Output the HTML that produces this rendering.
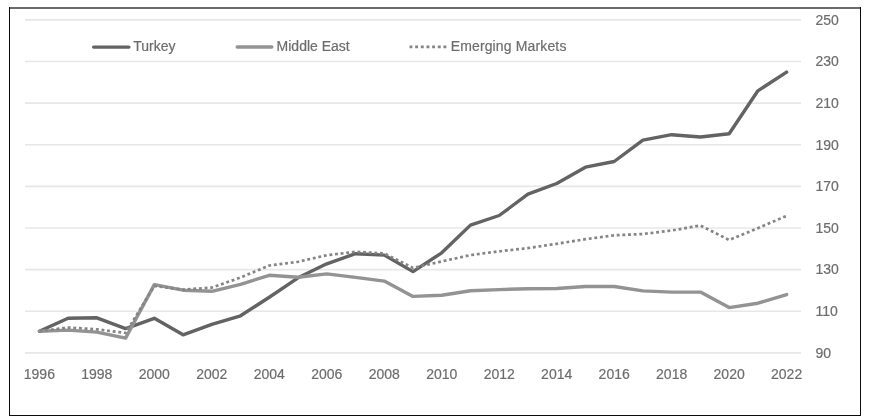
<!DOCTYPE html>
<html><head><meta charset="utf-8">
<style>
html,body{margin:0;padding:0;background:#fff;}
body{width:869px;height:417px;overflow:hidden;position:relative;}
svg{position:absolute;left:0;top:0;will-change:transform;}
text{font-family:"Liberation Sans",sans-serif;font-size:14px;fill:#6d6d6d;stroke:#6d6d6d;stroke-width:0.2px;}
</style></head><body>
<svg width="869" height="417" viewBox="0 0 869 417">
<rect x="0" y="0" width="869" height="417" fill="#fff"/>
<g>
<g stroke="#e7e7e7" stroke-width="1.6" fill="none">
<line x1="25" x2="801" y1="352.90" y2="352.90" />
<line x1="25" x2="801" y1="311.27" y2="311.27" />
<line x1="25" x2="801" y1="269.65" y2="269.65" />
<line x1="25" x2="801" y1="228.02" y2="228.02" />
<line x1="25" x2="801" y1="186.40" y2="186.40" />
<line x1="25" x2="801" y1="144.77" y2="144.77" />
<line x1="25" x2="801" y1="103.15" y2="103.15" />
<line x1="25" x2="801" y1="61.52" y2="61.52" />
<line x1="25" x2="801" y1="19.90" y2="19.90" />
</g>
<g>
<text x="815.5" y="357.80">90</text>
<text x="815.5" y="316.14">110</text>
<text x="815.5" y="274.48">130</text>
<text x="815.5" y="232.82">150</text>
<text x="815.5" y="191.16">170</text>
<text x="815.5" y="149.50">190</text>
<text x="815.5" y="107.84">210</text>
<text x="815.5" y="66.18">230</text>
<text x="815.5" y="24.52">250</text>
<text x="39.37" y="379.1" text-anchor="middle">1996</text>
<text x="96.85" y="379.1" text-anchor="middle">1998</text>
<text x="154.33" y="379.1" text-anchor="middle">2000</text>
<text x="211.81" y="379.1" text-anchor="middle">2002</text>
<text x="269.30" y="379.1" text-anchor="middle">2004</text>
<text x="326.78" y="379.1" text-anchor="middle">2006</text>
<text x="384.26" y="379.1" text-anchor="middle">2008</text>
<text x="441.74" y="379.1" text-anchor="middle">2010</text>
<text x="499.22" y="379.1" text-anchor="middle">2012</text>
<text x="556.70" y="379.1" text-anchor="middle">2014</text>
<text x="614.19" y="379.1" text-anchor="middle">2016</text>
<text x="671.67" y="379.1" text-anchor="middle">2018</text>
<text x="729.15" y="379.1" text-anchor="middle">2020</text>
<text x="786.63" y="379.1" text-anchor="middle">2022</text>
</g>
<g fill="none" stroke-linejoin="round" stroke-linecap="round">
<polyline points="39.37,331.30 68.11,318.30 96.85,317.80 125.59,328.60 154.33,318.30 183.07,334.80 211.81,324.30 240.56,315.80 269.30,297.20 298.04,277.80 326.78,263.80 355.52,253.70 384.26,255.10 413.00,271.60 441.74,252.80 470.48,225.10 499.22,215.50 527.96,194.20 556.70,183.50 585.44,167.20 614.19,161.50 642.93,140.20 671.67,134.70 700.41,137.00 729.15,133.80 757.89,90.80 786.63,72.10" stroke="#636363" stroke-width="3.4"/>
<polyline points="39.37,331.30 68.11,330.10 96.85,332.10 125.59,338.10 154.33,284.60 183.07,290.20 211.81,291.30 240.56,284.30 269.30,275.30 298.04,277.30 326.78,273.90 355.52,277.40 384.26,281.10 413.00,296.40 441.74,295.30 470.48,290.70 499.22,289.60 527.96,288.70 556.70,288.50 585.44,286.50 614.19,286.50 642.93,290.90 671.67,292.10 700.41,292.10 729.15,307.60 757.89,303.20 786.63,294.60" stroke="#939393" stroke-width="3.4"/>
<polyline points="39.37,331.30 68.11,327.50 96.85,329.30 125.59,333.00 154.33,286.00 183.07,289.60 211.81,287.60 240.56,277.50 269.30,265.50 298.04,261.80 326.78,255.20 355.52,251.80 384.26,253.40 413.00,267.90 441.74,261.40 470.48,255.10 499.22,251.30 527.96,248.10 556.70,243.80 585.44,239.20 614.19,235.30 642.93,234.00 671.67,230.50 700.41,225.50 729.15,240.00 757.89,228.20 786.63,215.80" stroke="#858585" stroke-width="2.7" stroke-dasharray="2.9 2.75" stroke-dashoffset="-0.3" stroke-linecap="butt"/>
</g>
<g fill="none" stroke-linecap="round">
<line x1="93.6" x2="128.9" y1="47.1" y2="47.1" stroke="#636363" stroke-width="3.4"/>
<line x1="237.2" x2="271.8" y1="47.0" y2="47.0" stroke="#939393" stroke-width="3.4"/>
<line x1="409.5" x2="446.5" y1="46.9" y2="46.9" stroke="#858585" stroke-width="2.8" stroke-dasharray="2.9 2.76" stroke-linecap="butt"/>
</g>
<g>
<text x="133.3" y="50.8">Turkey</text>
<text x="276.6" y="50.8">Middle East</text>
<text x="450.7" y="50.8" letter-spacing="0.14">Emerging Markets</text>
</g>
<g fill="none">
<rect x="9" y="7" width="852" height="2" fill="#6a6a6a" stroke="none"/>
<rect x="9" y="7" width="1" height="409" fill="#0c0c0c" stroke="none"/>
<rect x="860" y="7" width="1" height="409" fill="#0c0c0c" stroke="none"/>
<rect x="9" y="415" width="852" height="1" fill="#0c0c0c" stroke="none"/>
</g>
</g>
</svg>
</body></html>
